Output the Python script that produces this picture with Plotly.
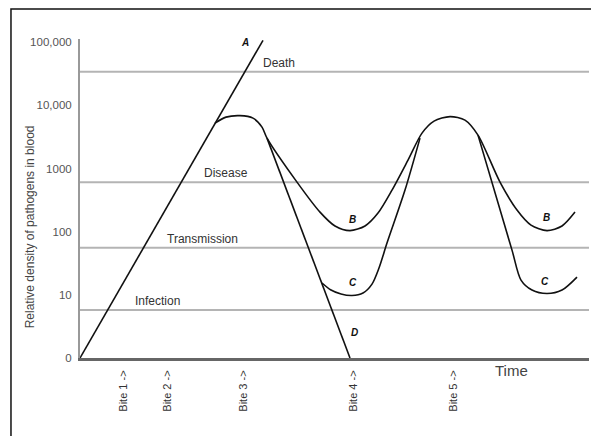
import math
import plotly.graph_objects as go

# ---- data ----
ytick_vals = [1, 10, 100, 1000, 10000, 100000]
ytick_text = ["0", "10", "100", "1000", "10,000", "100,000"]

threshold_names = ["Death", "Disease", "Transmission", "Infection"]
threshold_values = [33900, 603, 55.6, 5.74]
threshold_label_t = [181, 122, 85, 53]

bite_labels = ["Bite 1 ->", "Bite 2 ->", "Bite 3 ->", "Bite 4 ->", "Bite 5 ->"]
bite_times = [43, 87, 163, 273, 373]

time_range = [0, 509]

curve_a_t = [0, 183]
curve_a_v = [1, 107000]

curve_b_t = [135, 146, 160, 173, 182, 187, 217, 240, 255, 270, 285, 298, 312, 328, 342,
             354, 370, 385, 398, 420, 437, 451, 467, 482, 495]
curve_b_v = [5224, 6505, 6870, 6270, 4520, 3027, 609, 204, 123, 104, 123, 197, 455, 1358, 3631,
             5623, 6625, 5834, 3377, 609, 220, 127, 104, 123, 204]

curve_c_t = [242, 251, 261, 272, 283, 292, 299, 307, 325, 340, None,
             398, 432, 441, 452, 467, 482, 497]
curve_c_v = [15.4, 11.9, 10.3, 9.75, 10.7, 14.8, 26.6, 66, 455, 3027, None,
             3377, 51, 17.1, 11.9, 10.5, 11.9, 19.1]

curve_d_t = [187, 270]
curve_d_v = [3027, 1]

curve_labels = ["A", "B", "C", "D", "B", "C"]
curve_label_t = [165, 272, 273, 274, 466, 465]
curve_label_v = [100000, 158, 15.4, 2.49, 170, 16.5]

FONT = "Liberation Sans, Arial, sans-serif"

fig = go.Figure()

# threshold lines
for v in threshold_values:
    fig.add_trace(go.Scatter(x=time_range, y=[v, v], mode="lines",
                             line=dict(color="#b4b4b4", width=2),
                             hoverinfo="skip", showlegend=False))

fig.add_trace(go.Scatter(x=curve_a_t, y=curve_a_v, mode="lines",
                         line=dict(color="#111", width=1.6), showlegend=False))
fig.add_trace(go.Scatter(x=curve_d_t, y=curve_d_v, mode="lines",
                         line=dict(color="#111", width=1.6), showlegend=False))
fig.add_trace(go.Scatter(x=curve_b_t, y=curve_b_v, mode="lines",
                         line=dict(color="#111", width=1.6, shape="spline", smoothing=0.8),
                         showlegend=False))
fig.add_trace(go.Scatter(x=curve_c_t, y=curve_c_v, mode="lines", connectgaps=False,
                         line=dict(color="#111", width=1.6, shape="spline", smoothing=0.8),
                         showlegend=False))

annotations = []
for name, v, t in zip(threshold_names, threshold_values, threshold_label_t):
    annotations.append(dict(x=t, y=math.log10(v), xref="x", yref="y", text=name,
                            showarrow=False, xanchor="left", yanchor="bottom", yshift=0,
                            font=dict(family=FONT, size=12, color="#333")))
for name, t, v in zip(curve_labels, curve_label_t, curve_label_v):
    annotations.append(dict(x=t, y=math.log10(v), xref="x", yref="y",
                            text="<b><i>%s</i></b>" % name, showarrow=False,
                            xanchor="center", yanchor="middle",
                            font=dict(family=FONT, size=10, color="#111")))
annotations.append(dict(x=431, y=-0.038, xref="x", yref="paper", text="Time",
                        showarrow=False, xanchor="center", yanchor="middle",
                        font=dict(family=FONT, size=15, color="#444")))
annotations.append(dict(x=-0.098, y=0.41, xref="paper", yref="paper",
                        text="Relative density of pathogens in blood", textangle=-90,
                        showarrow=False, xanchor="center", yanchor="middle",
                        font=dict(family=FONT, size=12, color="#444")))

# the page adds an 8px body margin, so the figure is 8px smaller and margins shifted
fig.update_layout(
    width=591, height=428,
    margin=dict(l=72, r=10, t=31, b=78),
    paper_bgcolor="white", plot_bgcolor="white",
    font=dict(family=FONT),
    annotations=annotations,
    shapes=[dict(type="rect", xref="paper", yref="paper",
                 x0=-0.1356, x1=1.05, y0=-0.3, y1=1.094,
                 line=dict(color="#111", width=1.5), layer="below")],
    xaxis=dict(range=time_range, showgrid=False, zeroline=False, showline=True,
               linecolor="#666", linewidth=3, ticks="",
               tickvals=bite_times, ticktext=bite_labels, tickangle=-90,
               ticklabelstandoff=5,
               tickfont=dict(family=FONT, size=11, color="#333")),
    yaxis=dict(type="log", range=[0, 5.05], showgrid=False, zeroline=False,
               showline=True, linecolor="#999", linewidth=2, ticks="",
               tickvals=ytick_vals, ticktext=ytick_text, ticklabelstandoff=4,
               tickfont=dict(family=FONT, size=11.5, color="#555")),
)

fig.write_html("out.html")
